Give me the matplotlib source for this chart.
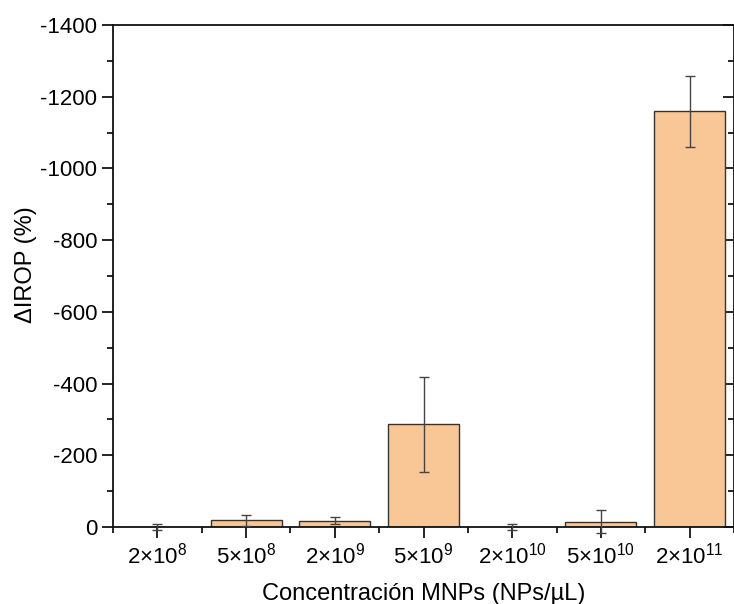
import numpy as np
import matplotlib
matplotlib.use('Agg')
import matplotlib.pyplot as plt
from matplotlib.ticker import MultipleLocator, FixedLocator

plt.rcParams['font.family'] = ['Liberation Sans', 'DejaVu Sans']
plt.rcParams['mathtext.fontset'] = 'custom'
plt.rcParams['mathtext.rm'] = 'Liberation Sans'
plt.rcParams['mathtext.it'] = 'Liberation Sans:italic'
plt.rcParams['axes.unicode_minus'] = False

# datos
categorias = ['$2{\\times}10^{8}$', '$5{\\times}10^{8}$', '$2{\\times}10^{9}$', '$5{\\times}10^{9}$',
              '$2{\\times}10^{10}$', '$5{\\times}10^{10}$', '$2{\\times}10^{11}$']
delta_irop = [0, -19, -18, -286, 0, -15, -1159]
error = [9, 15, 10, 133, 9, 31, 98]

x = np.arange(1, len(categorias) + 1)

fig = plt.figure(figsize=(7.34, 6.04), dpi=100)
ax = fig.add_axes([0.1540, 0.1275, 0.8460, 0.8311])

ax.bar(x, delta_irop, width=0.8, color='#F9C795', edgecolor='#333333', linewidth=1.0, zorder=2)
eb = ax.errorbar(x, delta_irop, yerr=error, fmt='none', ecolor='#444444', elinewidth=1.0,
                 capsize=3.8, capthick=1.0, zorder=3)
# las barras de error se salen por debajo del eje
for art in eb.lines[1] + eb.lines[2]:
    art.set_clip_on(False)

ax.set_xlim(0.5, 7.5)
ax.set_ylim(0, -1400)

ax.set_xticks(x)
ax.set_xticklabels(categorias, fontsize=16)
ax.xaxis.set_minor_locator(FixedLocator(np.arange(0.5, 8, 1.0)))
ax.yaxis.set_major_locator(MultipleLocator(200))
ax.yaxis.set_minor_locator(MultipleLocator(100))
ax.tick_params(axis='y', labelsize=16)

ax.tick_params(which='major', direction='out', length=8, width=1.2, top=False, right=True)
ax.tick_params(which='minor', direction='out', length=4.5, width=1.2, top=False, right=True)
ax.tick_params(axis='y', which='both', right=True, labelright=False)
# marcas del eje derecho hacia dentro
for t in ax.yaxis.get_major_ticks() + ax.yaxis.get_minor_ticks():
    t.tick2line.set_marker(matplotlib.lines.TICKLEFT)

for s in ax.spines.values():
    s.set_linewidth(1.3)
    s.set_color('#111111')

ax.set_xlabel('Concentración MNPs (NPs/µL)', fontsize=17, labelpad=10)
ax.set_ylabel('ΔIROP (%)', fontsize=17)
ax.yaxis.set_label_coords(-0.122, 0.522)

fig.savefig('out.png', dpi=100)
